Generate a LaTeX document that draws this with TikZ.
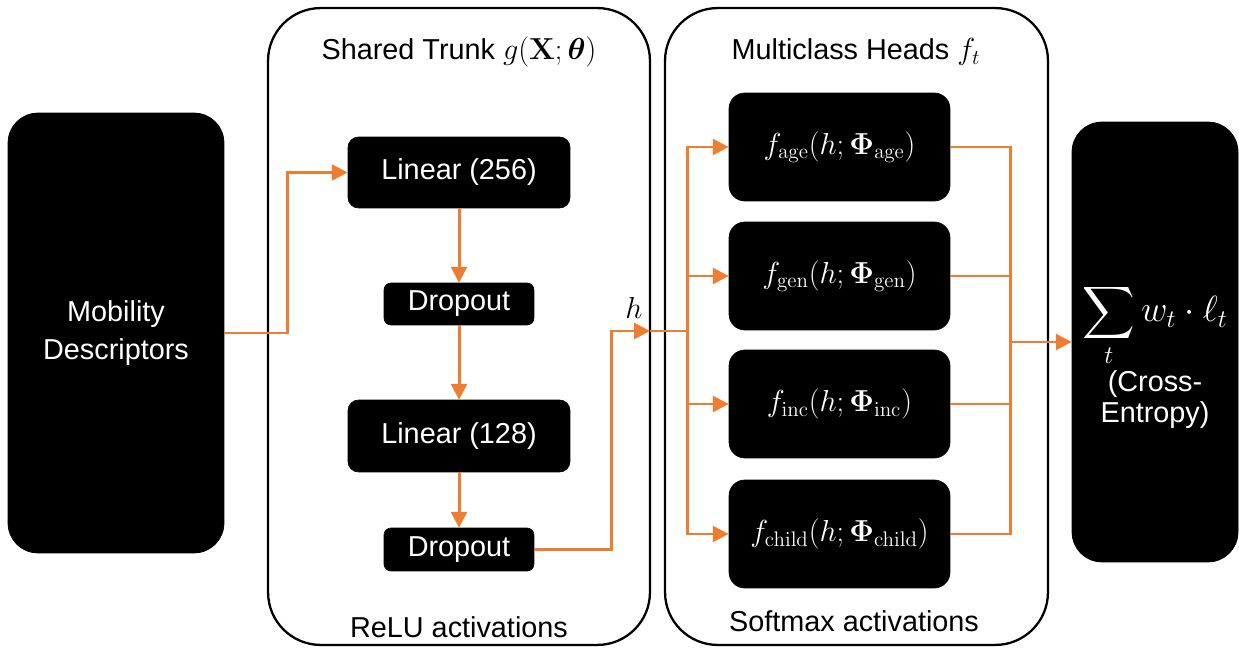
\documentclass[tikz,border=0pt]{standalone}
\usepackage{amsmath,bm}
\usepackage[no-math]{fontspec}
\setmainfont{Liberation Sans}
\usetikzlibrary{arrows.meta}
\definecolor{flow}{HTML}{ED7D31}

\begin{document}
\begin{tikzpicture}[x=0.02cm,y=-0.02cm,
  txt/.style={font=\fontsize{16.4}{21.5}\selectfont, inner sep=0pt},
  blk/.style={fill=black, draw=black, text=white, rounded corners=#1,
              inner sep=0pt, font=\fontsize{16.4}{21.5}\selectfont},
  grp/.style={draw=black, line width=1.3pt, fill=white, rounded corners=30pt},
  flowln/.style={draw=flow, line width=1.7pt},
  flowarr/.style={flowln, -{Triangle[length=9pt,width=9pt]}},
  head/.style={blk=9pt, minimum width=4.42cm, minimum height=2.16cm,
               font=\fontsize{18.2}{22}\selectfont}]

% canvas
\path[use as bounding box, fill=white] (0,0) rectangle (1239,651);

% input
\node[blk=17pt, minimum width=4.32cm, minimum height=8.8cm, align=center]
  (mob) at (116,333) {Mobility\\Descriptors};

% shared trunk
\node[grp, minimum width=7.64cm, minimum height=12.74cm] (trunk) at (459,326.5) {};
\node[txt] (trunkT) at (459,52) {Shared Trunk {\fontsize{18.5}{22}\selectfont$g(\mathbf{X};\bm{\theta})$}};
\node[txt] (trunkB) at (459,627) {ReLU activations};

\node[blk=6pt, minimum width=4.44cm, minimum height=1.42cm] (lin1) at (459,172.5) {Linear (256)};
\node[blk=4pt, minimum width=3.0cm, minimum height=0.84cm] (drop1) at (459,304) {Dropout};
\node[blk=6pt, minimum width=4.44cm, minimum height=1.44cm] (lin2) at (459,436) {Linear (128)};
\node[blk=4pt, minimum width=3.0cm, minimum height=0.86cm] (drop2) at (459,549.5) {Dropout};

% task heads
\node[grp, minimum width=7.66cm, minimum height=12.74cm] (heads) at (856.5,326.5) {};
\node[txt] (headsT) at (856,52) {Multiclass Heads {\fontsize{18.5}{22}\selectfont$f_t$}};
\node[txt] (headsB) at (854,621) {Softmax activations};

\node[head] (age)   at (839.5,147) {$f_{\mathrm{age}}(h;\mathbf{\Phi}_{\mathrm{age}})$};
\node[head] (gen)   at (839.5,276) {$f_{\mathrm{gen}}(h;\mathbf{\Phi}_{\mathrm{gen}})$};
\node[head] (inc)   at (839.5,404) {$f_{\mathrm{inc}}(h;\mathbf{\Phi}_{\mathrm{inc}})$};
\node[head] (child) at (839.5,534) {$f_{\mathrm{child}}(h;\mathbf{\Phi}_{\mathrm{child}})$};

% loss
\node[blk=17pt, minimum width=3.32cm, minimum height=8.8cm] (out) at (1155,342) {};
\node[txt, text=white, align=center, font=\fontsize{16.4}{17.5}\selectfont]
  (outT) at (1155,356) {{\fontsize{20.5}{24}\selectfont$\displaystyle\sum_t w_t\cdot\ell_t$}\\[1pt](Cross-\\Entropy)};

% connectors
\coordinate (hin) at (650,331);
\coordinate (fan) at (687,331);
\coordinate (merge) at (1010,342);
\node[txt, font=\fontsize{19}{22}\selectfont] (hlab) at (634,308) {$h$};

\draw[flowarr] (mob.east) -- ++(63,0) |- (lin1.west);
\draw[flowarr] (lin1) -- (drop1);
\draw[flowarr] (drop1) -- (lin2);
\draw[flowarr] (lin2) -- (drop2);
\draw[flowarr] (drop2.east) -- ++(77,0) |- (hin);
\draw[flowln] (hin) -- (fan);
\foreach \h in {age,gen,inc,child}{
  \draw[flowarr] (fan) |- (\h.west);
  \draw[flowln] (\h.east) -| (merge);
}
\draw[flowarr] (merge) -- (out.west);
\end{tikzpicture}
\end{document}
